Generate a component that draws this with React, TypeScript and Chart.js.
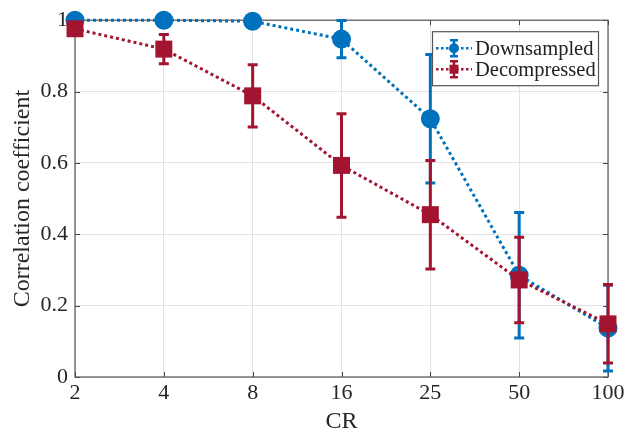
import React, { useEffect, useRef } from "react";
import { Chart, registerables } from "chart.js";

Chart.register(...registerables);

const categories = ["2", "4", "8", "16", "25", "50", "100"];
const downValues = [1.0, 1.0, 0.997, 0.947, 0.724, 0.285, 0.137];
const downErr = [0, 0, 0, 0.052, 0.18, 0.176, 0.12];
const decValues = [0.976, 0.919, 0.788, 0.593, 0.455, 0.272, 0.149];
const decErr = [0, 0.041, 0.087, 0.145, 0.152, 0.12, 0.11];
const yTicks = [0, 0.2, 0.4, 0.6, 0.8, 1];

const BLUE = "#0072BD";
const RED = "#A2142F";
const FONT = "'Liberation Serif', 'DejaVu Serif', serif";

const errorBarPlugin = {
  id: "errorBars",
  beforeDatasetDraw(chart: any, args: any) {
    const ds = chart.data.datasets[args.index];
    const errs: number[] = ds.errs;
    if (!errs) return;
    const { ctx, scales } = chart;
    const meta = chart.getDatasetMeta(args.index);
    ctx.save();
    ctx.strokeStyle = ds.borderColor;
    ctx.lineWidth = 3;
    ctx.setLineDash([]);
    meta.data.forEach((pt: any, i: number) => {
      const e = errs[i];
      if (!e) return;
      const v = ds.data[i];
      const yTop = scales.y.getPixelForValue(v + e);
      const yBot = scales.y.getPixelForValue(v - e);
      const x = pt.x;
      ctx.beginPath();
      ctx.moveTo(x, yTop);
      ctx.lineTo(x, yBot);
      ctx.moveTo(x - 5, yTop);
      ctx.lineTo(x + 5, yTop);
      ctx.moveTo(x - 5, yBot);
      ctx.lineTo(x + 5, yBot);
      ctx.stroke();
    });
    ctx.restore();
  },
};

const boxPlugin = {
  id: "boxAndLegend",
  beforeDatasetsDraw(chart: any) {
    const { ctx, chartArea: a, scales } = chart;
    ctx.save();
    ctx.strokeStyle = "#444";
    ctx.lineWidth = 1;
    ctx.beginPath();
    scales.x.ticks.forEach((_t: any, i: number) => {
      const x = Math.round(scales.x.getPixelForTick(i)) + 0.5;
      ctx.moveTo(x, a.bottom);
      ctx.lineTo(x, a.bottom - 5);
      ctx.moveTo(x, a.top);
      ctx.lineTo(x, a.top + 5);
    });
    scales.y.ticks.forEach((_t: any, i: number) => {
      const y = Math.round(scales.y.getPixelForTick(i)) + 0.5;
      ctx.moveTo(a.left, y);
      ctx.lineTo(a.left + 5, y);
      ctx.moveTo(a.right, y);
      ctx.lineTo(a.right - 5, y);
    });
    ctx.stroke();
    ctx.strokeStyle = "#555";
    ctx.lineWidth = 1.2;
    ctx.strokeRect(a.left, a.top, a.right - a.left, a.bottom - a.top);
    ctx.restore();
  },
  afterDraw(chart: any) {
    const { ctx, chartArea: a } = chart;
    const bx = a.right - 176;
    const by = a.top + 11;
    const bw = 166;
    const bh = 54;
    ctx.save();
    ctx.fillStyle = "#fff";
    ctx.fillRect(bx, by, bw, bh);
    ctx.strokeStyle = "#555";
    ctx.lineWidth = 1.2;
    ctx.strokeRect(bx + 0.5, by + 0.5, bw, bh);
    const items = [
      { label: chart.data.datasets[1].label, color: BLUE, style: "circle", y: by + 17 },
      { label: chart.data.datasets[0].label, color: RED, style: "rect", y: by + 38 },
    ];
    items.forEach((it) => {
      const cx = bx + 22;
      ctx.strokeStyle = it.color;
      ctx.fillStyle = it.color;
      ctx.lineWidth = 2.5;
      ctx.setLineDash([2.5, 2.5]);
      ctx.beginPath();
      ctx.moveTo(bx + 4, it.y);
      ctx.lineTo(bx + 40, it.y);
      ctx.stroke();
      ctx.setLineDash([]);
      ctx.lineWidth = 2.5;
      ctx.beginPath();
      ctx.moveTo(cx, it.y - 8);
      ctx.lineTo(cx, it.y + 8);
      ctx.moveTo(cx - 4, it.y - 8);
      ctx.lineTo(cx + 4, it.y - 8);
      ctx.moveTo(cx - 4, it.y + 8);
      ctx.lineTo(cx + 4, it.y + 8);
      ctx.stroke();
      ctx.beginPath();
      if (it.style === "circle") {
        ctx.arc(cx, it.y, 5, 0, Math.PI * 2);
      } else {
        ctx.rect(cx - 4.5, it.y - 4.5, 9, 9);
      }
      ctx.fill();
      ctx.fillStyle = "#222";
      ctx.font = `20.5px ${FONT}`;
      ctx.textBaseline = "middle";
      ctx.textAlign = "left";
      ctx.fillText(it.label, bx + 43, it.y + 1);
    });
    ctx.restore();
  },
};

export default function App() {
  const ref = useRef<HTMLCanvasElement | null>(null);
  useEffect(() => {
    if (!ref.current) return;
    const chart = new Chart(ref.current, {
      type: "line",
      data: {
        labels: categories,
        datasets: [
          {
            label: "Decompressed",
            data: decValues,
            errs: decErr,
            borderColor: RED,
            backgroundColor: RED,
            borderWidth: 3,
            borderDash: [3, 3],
            pointStyle: "rect",
            pointRadius: 12,
            pointBorderWidth: 0,
            pointBackgroundColor: RED,
            clip: false,
            order: 1,
          } as any,
          {
            label: "Downsampled",
            data: downValues,
            errs: downErr,
            borderColor: BLUE,
            backgroundColor: BLUE,
            borderWidth: 3,
            borderDash: [3, 3],
            pointStyle: "circle",
            pointRadius: 9.5,
            pointBorderWidth: 0,
            pointBackgroundColor: BLUE,
            clip: false,
            order: 2,
          } as any,
        ],
      },
      options: {
        animation: false,
        responsive: false,
        layout: { padding: { top: 18, right: 20, left: 0, bottom: 0 } },
        plugins: { legend: { display: false }, tooltip: { enabled: false } },
        scales: {
          x: {
            offset: false,
            grid: { color: "#e3e3e3", drawTicks: false, lineWidth: 1 },
            border: { display: false },
            ticks: { color: "#262626", font: { family: FONT, size: 22 }, padding: 3, maxRotation: 0 },
            title: { display: true, text: "CR", color: "#262626", font: { family: FONT, size: 24 }, padding: { top: 0, bottom: 0 } },
            afterFit(scale: any) {
              scale.height = 59;
            },
          },
          y: {
            min: 0,
            max: 1,
            afterBuildTicks(scale: any) {
              scale.ticks = yTicks.map((v) => ({ value: v }));
            },
            grid: { color: "#e3e3e3", drawTicks: false, lineWidth: 1 },
            border: { display: false },
            ticks: {
              color: "#262626",
              font: { family: FONT, size: 22 },
              padding: 7,
              callback: (v: any) => String(Math.round(Number(v) * 10) / 10),
            },
            title: { display: true, text: "Correlation coefficient", color: "#262626", font: { family: FONT, size: 24 }, padding: { top: 8, bottom: 0 } },
            afterFit(scale: any) {
              scale.width = 75;
            },
          },
        },
      },
      plugins: [errorBarPlugin, boxPlugin],
    } as any);
    return () => chart.destroy();
  }, []);
  return (
    <div style={{ position: "absolute", left: 0, top: 0, width: 628, height: 436, background: "#fff" }}>
      <canvas ref={ref} width={628} height={436} style={{ width: 628, height: 436 }} />
    </div>
  );
}
